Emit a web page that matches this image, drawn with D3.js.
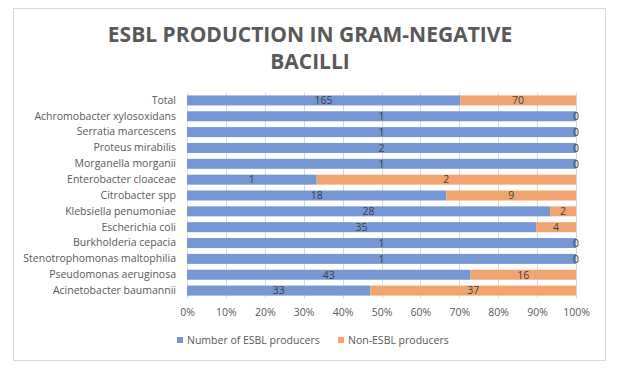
<!DOCTYPE html>
<html><head><meta charset="utf-8">
<script src="https://cdn.jsdelivr.net/npm/d3@7"></script>
<style>
html,body{margin:0;padding:0;background:#fff;}
svg{display:block;}
text{font-family:"Open Sans",sans-serif;}
</style></head>
<body>
<script>
const categories = ["Total","Achromobacter xylosoxidans","Serratia marcescens","Proteus mirabilis","Morganella morganii","Enterobacter cloaceae","Citrobacter spp","Klebsiella penumoniae","Escherichia coli","Burkholderia cepacia","Stenotrophomonas maltophilia","Pseudomonas aeruginosa","Acinetobacter baumannii"];
const esblProducers = [165,1,1,2,1,1,18,28,35,1,1,43,33];
const nonEsblProducers = [70,0,0,0,0,2,9,2,4,0,0,16,37];
const seriesNames = ["Number of ESBL producers","Non-ESBL producers"];
const tickValues = [0,0.1,0.2,0.3,0.4,0.5,0.6,0.7,0.8,0.9,1.0];
const titleLines = ["ESBL PRODUCTION IN GRAM-NEGATIVE","BACILLI"];
const colors = ["#7597D3","#F2A470"];

const W = 619, H = 369;
const svg = d3.select("body").append("svg").attr("width",W).attr("height",H);
svg.append("rect").attr("x",13.5).attr("y",8.5).attr("width",592).attr("height",352)
  .attr("fill","#fff").attr("stroke","#D9D9D9");

const plot = {left:187, right:576, top:92.5, bottom:298.5};
const x = d3.scaleLinear().domain([0,1]).range([plot.left, plot.right]);
const y = d3.scaleBand().domain(categories).range([plot.top, plot.bottom]).paddingInner(0.37).paddingOuter(0.185);

// title
svg.append("g").selectAll("text").data(titleLines).join("text")
  .attr("x",310).attr("y",(d,i)=>42+i*27).attr("text-anchor","middle")
  .attr("font-size","21px").attr("font-weight","bold").attr("fill","#595959").text(d=>d);

// gridlines
svg.append("g").selectAll("line").data(tickValues).join("line")
  .attr("x1",d=>Math.round(x(d))+0.5).attr("x2",d=>Math.round(x(d))+0.5)
  .attr("y1",plot.top).attr("y2",plot.bottom).attr("stroke","#D9D9D9").attr("stroke-width",1);

// data
const rows = categories.map((c,i)=>({cat:c, a:esblProducers[i], b:nonEsblProducers[i], t:esblProducers[i]+nonEsblProducers[i]}));
const segs = [];
rows.forEach(r=>{
  segs.push({cat:r.cat, s:0, x0:0, x1:r.a/r.t, v:r.a});
  segs.push({cat:r.cat, s:1, x0:r.a/r.t, x1:1, v:r.b});
});
svg.append("g").selectAll("rect").data(segs).join("rect")
  .attr("x",d=>x(d.x0)).attr("width",d=>x(d.x1)-x(d.x0))
  .attr("y",d=>y(d.cat)).attr("height",y.bandwidth()).attr("fill",d=>colors[d.s]);

svg.append("g").selectAll("text").data(segs).join("text")
  .attr("x",d=>(x(d.x0)+x(d.x1))/2).attr("y",d=>y(d.cat)+y.bandwidth()/2)
  .attr("dy","0.36em").attr("text-anchor","middle").attr("font-size","10.5px").attr("fill","#404040")
  .text(d=>d.v);

// y axis labels
const yAxis = d3.axisLeft(y).tickSize(0).tickPadding(11);
const gy = svg.append("g").attr("transform",`translate(${plot.left},0)`).call(yAxis);
gy.select(".domain").remove();
gy.selectAll("text").attr("font-size","10.5px").attr("fill","#595959").attr("font-family","'Open Sans',sans-serif");

// x axis
const xAxis = d3.axisBottom(x).tickValues(tickValues).tickFormat(d3.format(".0%")).tickSize(0).tickPadding(10);
const gx = svg.append("g").attr("transform",`translate(0,${plot.bottom})`).call(xAxis);
gx.select(".domain").remove();
gx.selectAll("text").attr("font-size","10.5px").attr("fill","#595959").attr("font-family","'Open Sans',sans-serif");

// legend
const legX = [177,338];
const lg = svg.append("g").selectAll("g").data(seriesNames).join("g")
  .attr("transform",(d,i)=>`translate(${legX[i]},340)`);
lg.append("rect").attr("x",0).attr("y",-3).attr("width",6).attr("height",6).attr("fill",(d,i)=>colors[i]);
lg.append("text").attr("x",10).attr("y",0).attr("dy","0.36em").attr("font-size","10.5px").attr("fill","#595959").text(d=>d);
</script>
</body></html>
